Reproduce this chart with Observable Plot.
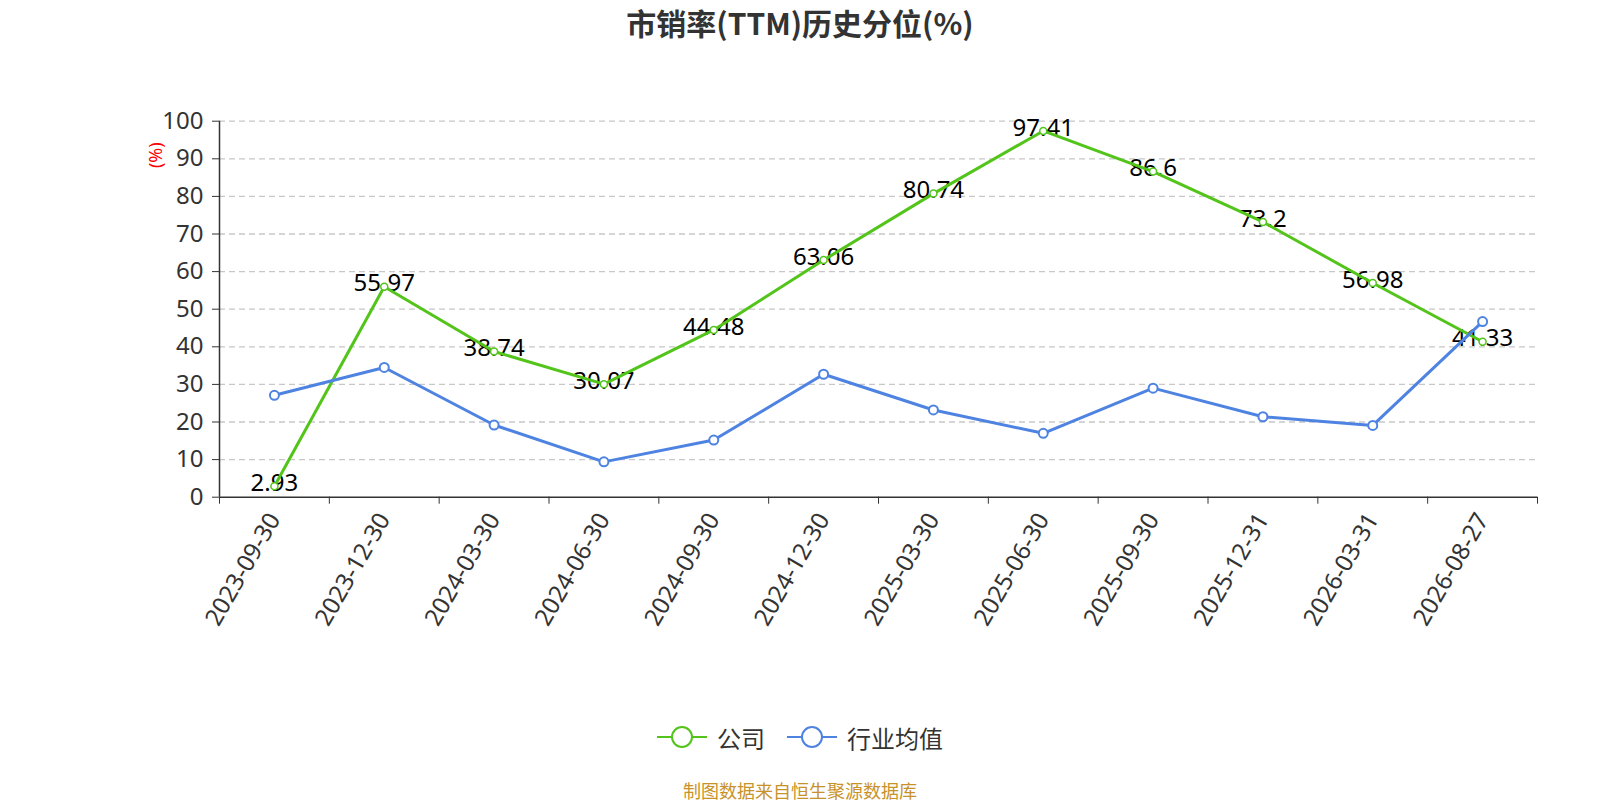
<!DOCTYPE html>
<html>
<head>
<meta charset="utf-8">
<script src="https://cdn.jsdelivr.net/npm/d3@7"></script>
<script src="https://cdn.jsdelivr.net/npm/@observablehq/plot@0.6"></script>
<style>
  html, body { margin: 0; padding: 0; background: #fff; overflow: hidden; }
  #wrap { width: 1600px; height: 800px; position: relative; font-family: "Noto Sans", "Noto Sans CJK SC", sans-serif; }
  #title { height: 44px; line-height: 44px; text-align: center; font-size: 30px; font-weight: bold; color: #333; font-family: "Noto Sans CJK SC", "Noto Sans", sans-serif; }
  #chart svg { display: block; }
  #legend { height: 74px; display: flex; justify-content: center; align-items: center; font-size: 24px; color: #333; font-family: "Noto Sans CJK SC", sans-serif; }
  .item { display: flex; align-items: center; }
  .item svg { margin-right: 10px; }
  #footer { height: 32px; line-height: 32px; text-align: center; font-size: 18px; color: #c8922a; font-family: "Noto Sans CJK SC", sans-serif; }
</style>
</head>
<body>
<div id="wrap">
  <div id="title">市销率(TTM)历史分位(%)</div>
  <div id="chart"></div>
  <div id="legend"></div>
  <div id="footer">制图数据来自恒生聚源数据库</div>
</div>
<script>
const dates = ["2023-09-30","2023-12-30","2024-03-30","2024-06-30","2024-09-30","2024-12-30","2025-03-30","2025-06-30","2025-09-30","2025-12-31","2026-03-31","2026-08-27"];
const companyValues = [2.93, 55.97, 38.74, 30.07, 44.48, 63.06, 80.74, 97.41, 86.6, 73.2, 56.98, 41.33];
const industryValues = [27.1, 34.5, 19.2, 9.4, 15.2, 32.7, 23.2, 17.0, 29.0, 21.4, 19.1, 46.7];
const yTicks = [0, 10, 20, 30, 40, 50, 60, 70, 80, 90, 100];
const seriesNames = ["公司", "行业均值"];
const colors = ["#52c41a", "#4e83e2"];

const idx = dates.map((d, i) => i);
const company = idx.map(i => ({i, v: companyValues[i]}));
const industry = idx.map(i => ({i, v: industryValues[i]}));
const bounds = [...idx.map(i => i - 0.5), dates.length - 0.5];

const chart = Plot.plot({
  width: 1600,
  height: 656,
  marginTop: 76.7,
  marginBottom: 203.3,
  marginLeft: 219,
  marginRight: 63,
  style: {fontFamily: "'Noto Sans', 'Noto Sans CJK SC', sans-serif", fontSize: "24px", color: "#333", background: "#fff"},
  x: {type: "linear", domain: [-0.5, dates.length - 0.5]},
  y: {domain: [0, 100]},
  marks: [
    Plot.gridY(yTicks.filter(d => d > 0), {stroke: "#c8c8c8", strokeOpacity: 1, strokeWidth: 1.3, strokeDasharray: "6,4"}),
    Plot.axisY({ticks: yTicks, tickSize: 7, tickPadding: 9, fontSize: 24, label: null, stroke: "#333"}),
    Plot.axisX({ticks: bounds, tickSize: 7, tickFormat: () => "", label: null, stroke: "#333"}),
    Plot.axisX({ticks: idx, tickSize: 0, tickPadding: 18, tickRotate: -60, fontSize: 24, tickFormat: i => dates[i], label: null}),
    Plot.ruleX([-0.5], {stroke: "#333", strokeWidth: 1.5}),
    Plot.ruleY([0], {stroke: "#333", strokeWidth: 1.5}),
    Plot.text(["(%)"], {frameAnchor: "top-left", dx: -63, dy: 34, rotate: -90, textAnchor: "middle", lineAnchor: "middle", fill: "red", fontSize: 18}),
    Plot.text(company, {x: "i", y: "v", text: d => String(d.v), dy: -3, fill: "#000", fontSize: 24}),
    Plot.line(company, {x: "i", y: "v", stroke: colors[0], strokeWidth: 3}),
    Plot.line(industry, {x: "i", y: "v", stroke: colors[1], strokeWidth: 3}),
    Plot.dot(company, {x: "i", y: "v", r: 3.5, fill: "#fff", stroke: colors[0], strokeWidth: 1.5}),
    Plot.dot(industry, {x: "i", y: "v", r: 4.5, fill: "#fff", stroke: colors[1], strokeWidth: 2})
  ]
});
document.getElementById("chart").appendChild(chart);

const legend = document.getElementById("legend");
seriesNames.forEach((name, k) => {
  const item = document.createElement("div");
  item.className = "item";
  if (k > 0) item.style.marginLeft = "22px";
  item.innerHTML = `<svg width="50" height="26" viewBox="0 0 50 26"><line x1="0" y1="13" x2="50" y2="13" stroke="${colors[k]}" stroke-width="2"/><circle cx="25" cy="13" r="10" fill="#fff" stroke="${colors[k]}" stroke-width="2"/></svg><span>${name}</span>`;
  legend.appendChild(item);
});
</script>
</body>
</html>
